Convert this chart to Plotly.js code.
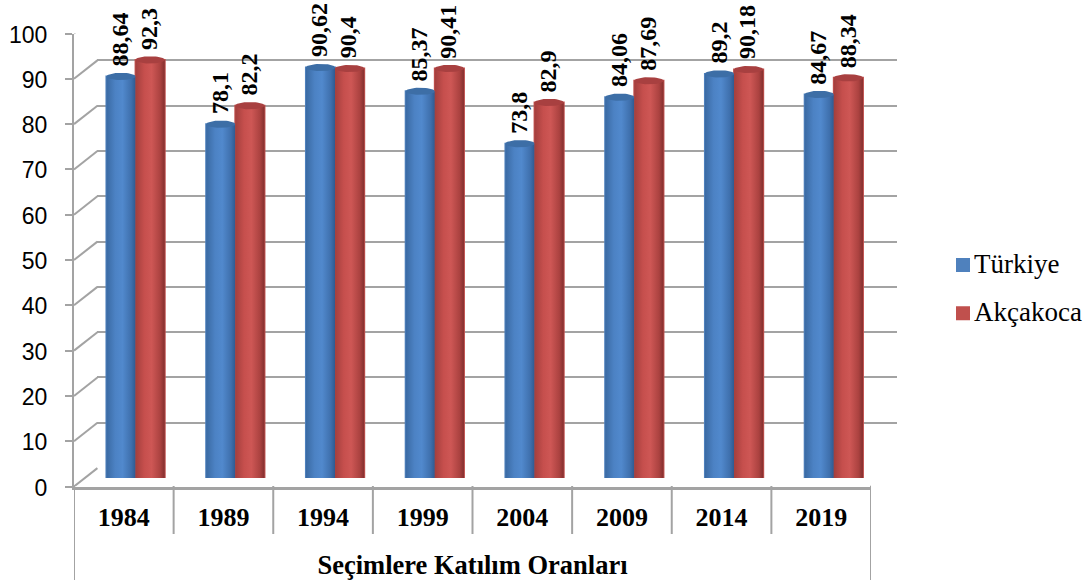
<!DOCTYPE html>
<html>
<head>
<meta charset="utf-8">
<script src="https://cdn.plot.ly/plotly-3.0.1.min.js"></script>
<style>html,body{margin:0;padding:0;background:#fff}#c{width:1087px;height:585px}</style>
</head>
<body>
<div id="c"></div>
<script>
const years = ['1984','1989','1994','1999','2004','2009','2014','2019'];
const turkiye = [88.64,78.1,90.62,85.37,73.8,84.06,89.2,84.67];
const akcakoca = [92.3,82.2,90.4,90.41,82.9,87.69,90.18,88.34];
const seriesNames = ['Türkiye','Akçakoca'];
const yTicks = [0,10,20,30,40,50,60,70,80,90,100];
const axisTitle = 'Seçimlere Katılım Oranları';

const W = 1087, H = 585;
const GRID = '#a3a3a3';
const SERIF = '"Liberation Serif", serif';
const dx = v => v / W, dy = v => 1 - v / H;
const domX = (a, b) => [dx(a), dx(b)];
const domY = (top, bottom) => [dy(bottom), dy(top)];
const fmt = v => String(v).replace('.', ',');

const positions = years.map((_, i) => i + 0.5);
const barWidth = 0.292;
const capRy = 0.8;
const N = 24;

const styles = [
  {base:'#4f81bd', cap:'#3d6ea6', scale:[[0,'#3a6aa3'],[0.3,'#4c82c4'],[0.55,'#5189cd'],[0.85,'#3f70ad'],[1,'#2f5a90']]},
  {base:'#c0504d', cap:'#a84040', scale:[[0,'#a33f3d'],[0.3,'#c64f4d'],[0.55,'#ce5755'],[0.85,'#ab4240'],[1,'#84302f']]}
];

function cylinder(center, value, st) {
  const x0 = center - barWidth / 2, x1 = center + barWidth / 2;
  const bx = [], by = [], cx = [], cy = [];
  for (let k = 0; k <= N; k++) {
    const t = Math.PI * k / N;
    bx.push(center - Math.cos(t) * barWidth / 2);
    by.push(-Math.sin(t) * capRy);
  }
  bx.push(x1, x0, x0); by.push(value, value, 0);
  for (let k = 0; k <= 2 * N; k++) {
    const t = Math.PI * k / N;
    cx.push(center + Math.cos(t) * barWidth / 2);
    cy.push(value + Math.sin(t) * capRy);
  }
  const common = {type:'scatter', mode:'lines', fill:'toself', line:{width:0}, xaxis:'x3', yaxis:'y3',
    showlegend:false, hoverinfo:'skip', cliponaxis:false};
  return [
    Object.assign({}, common, {x:bx, y:by, fillgradient:{type:'horizontal', colorscale:st.scale, start:x0, stop:x1}}),
    Object.assign({}, common, {x:cx, y:cy, fillcolor:st.cap})
  ];
}

const barTraces = [turkiye, akcakoca].map((vals, s) => ({
  type:'bar', name:seriesNames[s], x:positions, y:vals, xaxis:'x3', yaxis:'y3',
  marker:{color:styles[s].base, line:{width:2, color:styles[s].base}}, legendgroup:seriesNames[s],
  cliponaxis:false, hoverinfo:'skip'
}));

const cylinders = [];
const labels = [];
positions.forEach((p, i) => {
  cylinders.push(...cylinder(p - barWidth / 2, turkiye[i], styles[0]));
  cylinders.push(...cylinder(p + barWidth / 2, akcakoca[i], styles[1]));
  [[turkiye[i], -1], [akcakoca[i], 1]].forEach(([v, side]) => labels.push({
    xref:'x3', yref:'y3', x:p + side * barWidth / 2, y:v, text:fmt(v), showarrow:false, textangle:-90,
    xanchor:'center', yanchor:'bottom', yshift:9, xshift:-1,
    borderpad:0, font:{family:SERIF, size:24, color:'#000', weight:700}
  }));
});

const depthX = 23.4 / 99.6, depthY = 18.4 / 4.53;
const sx = [], sy = [];
yTicks.forEach(v => { sx.push(0, depthX, null); sy.push(v, v + depthY, null); });
sx.push(8, 8 + depthX); sy.push(0, depthY);
const slants = {type:'scatter', mode:'lines', x:sx, y:sy, xaxis:'x2', yaxis:'y2', cliponaxis:false,
  line:{color:GRID, width:2}, showlegend:false, hoverinfo:'skip'};

const backAnchor = {type:'scatter', mode:'markers', x:[0], y:[0], marker:{opacity:0}, xaxis:'x', yaxis:'y',
  showlegend:false, hoverinfo:'skip'};

const dividers = years.map((_, i) => i).concat([8]).map(i => ({
  type:'line', xref:'x2', yref:'paper', x0:i, x1:i, y0:dy(486),
  y1:(i === 0 || i === 8) ? dy(580) : dy(534), line:{color:GRID, width:2}
}));

const layout = {
  width:W, height:H, margin:{l:0,r:0,t:0,b:0,pad:0}, paper_bgcolor:'#fff', plot_bgcolor:'rgba(0,0,0,0)',
  font:{family:SERIF, color:'#000'}, bargap:0.416, bargroupgap:0, barmode:'group', shapes:dividers, annotations:labels,
  xaxis:{domain:domX(97.3,896.7), range:[0,8], visible:false, fixedrange:true},
  yaxis:{domain:domY(15,468), range:[0,100], tickvals:yTicks, showgrid:true, gridcolor:GRID, gridwidth:2,
    zeroline:false, showline:false, showticklabels:false, ticks:'', fixedrange:true},
  xaxis2:{domain:domX(74,871), range:[0,8], anchor:'y2', tickmode:'array', tickvals:positions, ticktext:years,
    tickfont:{family:SERIF, size:26, color:'#000', weight:700}, ticks:'', showgrid:false, zeroline:false,
    showline:true, linecolor:GRID, linewidth:3, ticklabelstandoff:5, fixedrange:true,
    title:{text:axisTitle, font:{family:SERIF, size:26.5, color:'#000', weight:700}, standoff:25}},
  yaxis2:{domain:domY(33.5,486.5), range:[0,100], anchor:'x2', tickmode:'array', tickvals:yTicks,
    tickfont:{family:'"Liberation Sans", sans-serif', size:23, color:'#000'}, ticks:'outside', ticklen:7, tickwidth:2,
    tickcolor:GRID, showgrid:false, zeroline:false, showline:true, linecolor:GRID, linewidth:2,
    ticklabelstandoff:13, ticklabelshift:1, fixedrange:true},
  xaxis3:{domain:domX(85.7,883.7), range:[0,8], anchor:'y3', visible:false, fixedrange:true},
  yaxis3:{domain:domY(25,478), range:[0,100], anchor:'x3', visible:false, fixedrange:true},
  legend:{x:934/W, y:dy(238), xanchor:'left', yanchor:'top', font:{family:SERIF, size:27, color:'#000'},
    tracegroupgap:10, bgcolor:'rgba(0,0,0,0)'}
};

Plotly.newPlot('c', [backAnchor, slants].concat(barTraces, cylinders), layout, {displayModeBar:false, staticPlot:true})
  .then(() => {
    document.querySelectorAll('#c .legendsymbols').forEach(g => g.setAttribute('transform', 'translate(9,3)'));
  });
</script>
</body>
</html>
